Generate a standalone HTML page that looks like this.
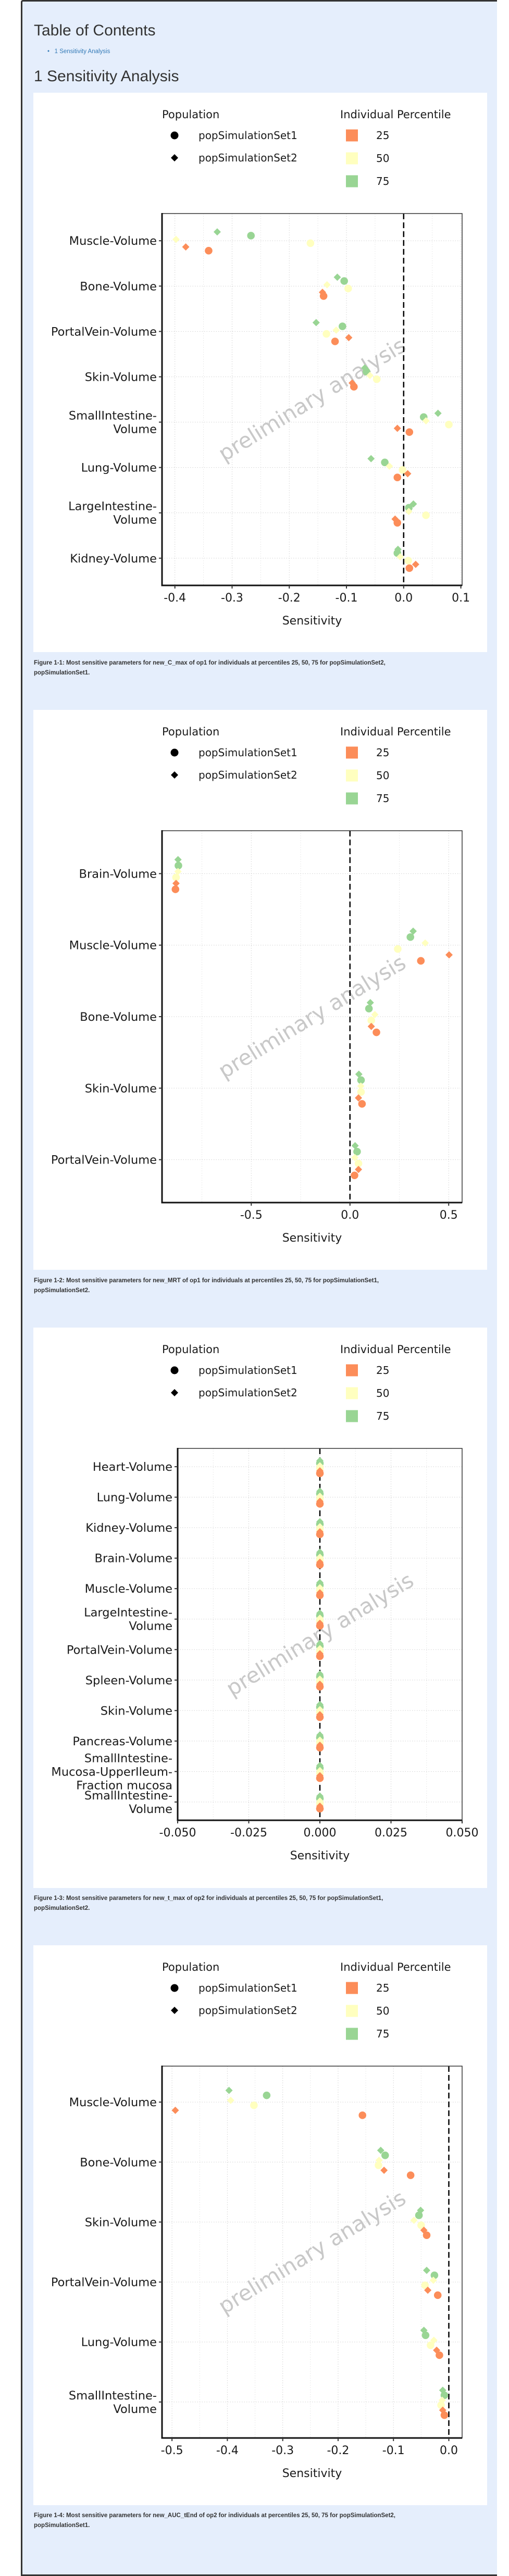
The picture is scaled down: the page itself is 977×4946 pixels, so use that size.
<!DOCTYPE html>
<html><head><meta charset="utf-8">
<style>
html,body{margin:0;padding:0;background:#fff;}
body{width:977px;height:4943px;position:relative;overflow:hidden;font-family:"Liberation Sans",sans-serif;}
#page{position:absolute;left:40px;top:0;width:911px;height:4940px;background:#e5eefc;border-left:3px solid #333;border-top:3px solid #333;border-bottom:3px solid #333;border-top-left-radius:4px;}
.h1{position:absolute;left:65px;font-size:30px;color:#333;white-space:nowrap;}
.toc{position:absolute;left:91px;top:93px;font-size:11.5px;color:#337ab7;white-space:nowrap;}
.panel{position:absolute;left:64px;width:871px;background:#fff;}
.cap{position:absolute;left:65px;width:880px;font-size:11.5px;font-weight:bold;color:#333;line-height:19px;}
svg{position:absolute;left:0;}
</style></head>
<body>
<div id="page"></div>
<div class="h1" style="top:42px">Table of Contents</div>
<div class="toc">•&nbsp;&nbsp;&nbsp;1 Sensitivity Analysis</div>
<div class="h1" style="top:130px">1 Sensitivity Analysis</div>

<div class="panel" style="top:178px;height:1074px"></div>
<div class="panel" style="top:1363px;height:1075px"></div>
<div class="panel" style="top:2549px;height:1076px"></div>
<div class="panel" style="top:3735px;height:1075px"></div>

<div class="cap" style="top:1264px">Figure 1-1: Most sensitive parameters for new_C_max of op1 for individuals at percentiles 25, 50, 75 for popSimulationSet2,<br>popSimulationSet1.</div>
<div class="cap" style="top:2450px">Figure 1-2: Most sensitive parameters for new_MRT of op1 for individuals at percentiles 25, 50, 75 for popSimulationSet1,<br>popSimulationSet2.</div>
<div class="cap" style="top:3636px">Figure 1-3: Most sensitive parameters for new_t_max of op2 for individuals at percentiles 25, 50, 75 for popSimulationSet1,<br>popSimulationSet2.</div>
<div class="cap" style="top:4821px">Figure 1-4: Most sensitive parameters for new_AUC_tEnd of op2 for individuals at percentiles 25, 50, 75 for popSimulationSet2,<br>popSimulationSet1.</div>

<script>
// ---- Figure 1 data ----
const c1Categories = ["Muscle-Volume","Bone-Volume","PortalVein-Volume","Skin-Volume","SmallIntestine-\nVolume","Lung-Volume","LargeIntestine-\nVolume","Kidney-Volume"];
const c1Set2P75 = [-0.326,-0.116,-0.153,-0.068,0.060,-0.057,0.017,-0.010];
const c1Set1P75 = [-0.267,-0.104,-0.107,-0.065,0.035,-0.033,0.009,-0.011];
const c1Set2P50 = [-0.398,-0.134,-0.118,-0.059,0.039,-0.025,0.009,-0.006];
const c1Set1P50 = [-0.163,-0.097,-0.135,-0.047,0.079,-0.002,0.039,0.008];
const c1Set2P25 = [-0.381,-0.142,-0.096,-0.090,-0.011,0.007,-0.015,0.021];
const c1Set1P25 = [-0.341,-0.140,-0.120,-0.087,0.010,-0.011,-0.011,0.010];
const c1Ticks = [-0.4,-0.3,-0.2,-0.1,0.0,0.1];
const c1TickLabels = ["-0.4","-0.3","-0.2","-0.1","0.0","0.1"];
const c1Domain = [-0.4225,0.1022];

// ---- Figure 2 data ----
const c2Categories = ["Brain-Volume","Muscle-Volume","Bone-Volume","Skin-Volume","PortalVein-Volume"];
const c2Set2P75 = [-0.871,0.320,0.103,0.045,0.026];
const c2Set1P75 = [-0.869,0.306,0.096,0.056,0.036];
const c2Set2P50 = [-0.871,0.381,0.126,0.055,0.025];
const c2Set1P50 = [-0.881,0.242,0.108,0.056,0.043];
const c2Set2P25 = [-0.881,0.502,0.108,0.043,0.043];
const c2Set1P25 = [-0.884,0.359,0.134,0.061,0.023];
const c2Ticks = [-0.5,0.0,0.5];
const c2TickLabels = ["-0.5","0.0","0.5"];
const c2Domain = [-0.952,0.568];

// ---- Figure 3 data ----
const c3Categories = ["Heart-Volume","Lung-Volume","Kidney-Volume","Brain-Volume","Muscle-Volume","LargeIntestine-\nVolume","PortalVein-Volume","Spleen-Volume","Skin-Volume","Pancreas-Volume","SmallIntestine-\nMucosa-UpperIleum-\nFraction mucosa","SmallIntestine-\nVolume"];
const c3Set2P75 = [0,0,0,0,0,0,0,0,0,0,0,0];
const c3Set1P75 = [0,0,0,0,0,0,0,0,0,0,0,0];
const c3Set2P50 = [0,0,0,0,0,0,0,0,0,0,0,0];
const c3Set1P50 = [0,0,0,0,0,0,0,0,0,0,0,0];
const c3Set2P25 = [0,0,0,0,0,0,0,0,0,0,0,0];
const c3Set1P25 = [0,0,0,0,0,0,0,0,0,0,0,0];
const c3Ticks = [-0.05,-0.025,0,0.025,0.05];
const c3TickLabels = ["-0.050","-0.025","0.000","0.025","0.050"];
const c3Domain = [-0.05,0.05];

// ---- Figure 4 data ----
const c4Categories = ["Muscle-Volume","Bone-Volume","Skin-Volume","PortalVein-Volume","Lung-Volume","SmallIntestine-\nVolume"];
const c4Set2P75 = [-0.397,-0.123,-0.051,-0.040,-0.045,-0.011];
const c4Set1P75 = [-0.329,-0.115,-0.054,-0.026,-0.042,-0.008];
const c4Set2P50 = [-0.394,-0.126,-0.063,-0.028,-0.027,-0.012];
const c4Set1P50 = [-0.352,-0.127,-0.050,-0.043,-0.033,-0.014];
const c4Set2P25 = [-0.494,-0.117,-0.045,-0.038,-0.022,-0.011];
const c4Set1P25 = [-0.156,-0.069,-0.040,-0.020,-0.017,-0.008];
const c4Ticks = [-0.5,-0.4,-0.3,-0.2,-0.1,0.0];
const c4TickLabels = ["-0.5","-0.4","-0.3","-0.2","-0.1","0.0"];
const c4Domain = [-0.518,0.024];

const COL = {p25:"#fc8d59", p50:"#ffffbf", p75:"#99d594"};
const NS = "http://www.w3.org/2000/svg";
const FONT = '"DejaVu Sans", sans-serif';

function mk(tag, attrs, parent){
  const e = document.createElementNS(NS, tag);
  for (const k in attrs) e.setAttribute(k, attrs[k]);
  if (parent) parent.appendChild(e);
  return e;
}

function drawChart(id, top, left, cats, series, ticks, tickLabels, domain){
  const svg = mk('svg', {width:977, height:1000, viewBox:"0 0 977 1000"});
  svg.style.top = top + 'px';
  
  
  document.body.appendChild(svg);
  const L = left, R = 887, T = 232, B = 946;
  const x = v => L + (v - domain[0]) / (domain[1] - domain[0]) * (R - L);
  const n = cats.length;
  const band = (B - T) / (n - 1 + 1.2);
  const y = i => T + (0.6 + i) * band;

  // legend
  const lg = mk('g', {}, svg);
  
  
  const t1 = mk('text', {x:311, y:49, 'font-family':FONT, 'font-size':21, fill:'#1a1a1a'}, lg); t1.textContent = 'Population';
  const t2 = mk('text', {x:653, y:49, 'font-family':FONT, 'font-size':21, fill:'#1a1a1a'}, lg); t2.textContent = 'Individual Percentile';
  const pc = mk('circle', {cx:335, cy:82, r:7.5, fill:'#000'}, lg);
  
  
  const pd = mk('path', {d:'M335 118 l7 7 l-7 7 l-7 -7 z', fill:'#000'}, lg);
  
  
  const l1 = mk('text', {x:381, y:89, 'font-family':FONT, 'font-size':20, fill:'#1a1a1a'}, lg); l1.textContent = 'popSimulationSet1';
  const l2 = mk('text', {x:381, y:132, 'font-family':FONT, 'font-size':20, fill:'#1a1a1a'}, lg); l2.textContent = 'popSimulationSet2';
  [['25',COL.p25],['50',COL.p50],['75',COL.p75]].forEach((p, k) => {
    const cy = 82 + k * 44;
    const sq = mk('rect', {x:664, y:cy - 11.5, width:23, height:23, fill:p[1]}, lg);
    
    
    const tt = mk('text', {x:722, y:cy + 7, 'font-family':FONT, 'font-size':20, fill:'#1a1a1a'}, lg); tt.textContent = p[0];
  });

  // grid
  const grid = mk('g', {stroke:'#cfcfcf', 'stroke-width':1, 'stroke-dasharray':'1.5,3'}, svg);
  
  
  for (let k = 0; k < ticks.length; k++){
    mk('line', {x1:x(ticks[k]), x2:x(ticks[k]), y1:T, y2:B}, grid);
    if (k < ticks.length - 1){
      const m = (ticks[k] + ticks[k+1]) / 2;
      mk('line', {x1:x(m), x2:x(m), y1:T, y2:B, stroke:'#e3e3e3'}, grid);
    }
  }
  const st = ticks[1] - ticks[0];
  [ticks[0] - st / 2, ticks[ticks.length - 1] + st / 2].forEach(m => {
    if (m > domain[0] && m < domain[1]) mk('line', {x1:x(m), x2:x(m), y1:T, y2:B, stroke:'#e3e3e3'}, grid);
  });
  for (let i = 0; i < n; i++) mk('line', {x1:L, x2:R, y1:y(i), y2:y(i)}, grid);

  // watermark
  const wm = mk('text', {x:(L + R) / 2, y:(T + B) / 2 + 14, 'font-family':FONT, 'font-size':41, fill:'#c8c8c8', 'text-anchor':'middle', transform:'rotate(-31.5 ' + ((L + R) / 2) + ' ' + ((T + B) / 2) + ')'}, svg);
  wm.textContent = 'preliminary analysis';
  
  

  // zero line
  const zl = mk('line', {x1:x(0), x2:x(0), y1:T, y2:B, stroke:'#000', 'stroke-width':2.5, 'stroke-dasharray':'11,6'}, svg);
  
  

  // points
  const pts = mk('g', {}, svg);
  
  
  const step = band * 0.083;
  series.forEach((s, j) => {
    const off = (j - 2.5) * step + band * 0.012;
    s.vals.forEach((v, i) => {
      const px = x(v), py = y(i) + off;
      let el;
      if (s.shape === 'circle') el = mk('circle', {cx:px, cy:py, r:7.3, fill:s.col}, pts);
      else el = mk('path', {d:'M' + px + ' ' + (py - 7) + ' l7 7 l-7 7 l-7 -7 z', fill:s.col}, pts);
      
      
    });
  });

  // frame and axes
  mk('rect', {x:L, y:T, width:R - L, height:B - T, fill:'none', stroke:'#333', 'stroke-width':1.5}, svg);
  const ya = mk('line', {x1:L, x2:L, y1:T - 1, y2:B + 1.5, stroke:'#111', 'stroke-width':3}, svg);
  
  
  const xa = mk('line', {x1:L - 1.5, x2:R, y1:B, y2:B, stroke:'#111', 'stroke-width':3}, svg);
  
  

  // y labels
  for (let i = 0; i < n; i++){
    mk('line', {x1:L - 6, x2:L, y1:y(i), y2:y(i), stroke:'#333', 'stroke-width':2}, svg);
    const lines = cats[i].split('\n');
    const h = 26;
    lines.forEach((ln, k) => {
      const ty = y(i) + (k - (lines.length - 1) / 2) * h + 8;
      const t = mk('text', {x:L - 10, y:ty, 'font-family':FONT, 'font-size':22.5, fill:'#1a1a1a', 'text-anchor':'end'}, svg);
      t.textContent = ln;
      
      
    });
  }
  // x ticks
  ticks.forEach((tv, k) => {
    mk('line', {x1:x(tv), x2:x(tv), y1:B, y2:B + 6, stroke:'#333', 'stroke-width':2}, svg);
    const t = mk('text', {x:x(tv), y:977, 'font-family':FONT, 'font-size':22, fill:'#1a1a1a', 'text-anchor':'middle'}, svg);
    t.textContent = tickLabels[k];
    
    
  });
  const xt = mk('text', {x:(L + R) / 2, y:1021, 'font-family':FONT, 'font-size':22, fill:'#1a1a1a', 'text-anchor':'middle'}, svg);
  xt.textContent = 'Sensitivity';
  
  
  svg.setAttribute('height', 1040);
  svg.setAttribute('viewBox', '0 0 977 1040');
}

function ser(a, b, c, d, e, f){
  return [
    {key:'set2-p75', shape:'diamond', col:COL.p75, vals:a},
    {key:'set1-p75', shape:'circle', col:COL.p75, vals:b},
    {key:'set2-p50', shape:'diamond', col:COL.p50, vals:c},
    {key:'set1-p50', shape:'circle', col:COL.p50, vals:d},
    {key:'set2-p25', shape:'diamond', col:COL.p25, vals:e},
    {key:'set1-p25', shape:'circle', col:COL.p25, vals:f}
  ];
}

drawChart('figure-1', 178, 311, c1Categories, ser(c1Set2P75,c1Set1P75,c1Set2P50,c1Set1P50,c1Set2P25,c1Set1P25), c1Ticks, c1TickLabels, c1Domain);
drawChart('figure-2', 1363, 311, c2Categories, ser(c2Set2P75,c2Set1P75,c2Set2P50,c2Set1P50,c2Set2P25,c2Set1P25), c2Ticks, c2TickLabels, c2Domain);
drawChart('figure-3', 2549, 341, c3Categories, ser(c3Set2P75,c3Set1P75,c3Set2P50,c3Set1P50,c3Set2P25,c3Set1P25), c3Ticks, c3TickLabels, c3Domain);
drawChart('figure-4', 3735, 311, c4Categories, ser(c4Set2P75,c4Set1P75,c4Set2P50,c4Set1P50,c4Set2P25,c4Set1P25), c4Ticks, c4TickLabels, c4Domain);
</script>
</body></html>
